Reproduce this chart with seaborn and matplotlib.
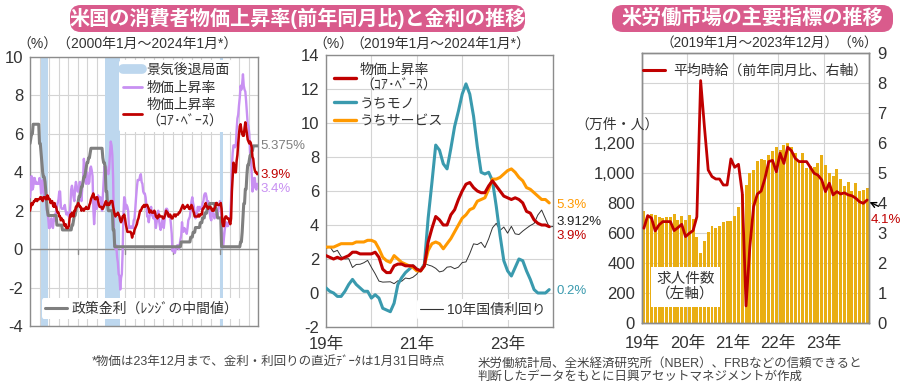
import numpy as np
import pandas as pd
import matplotlib
matplotlib.use("Agg")
import matplotlib.pyplot as plt
import seaborn as sns
from matplotlib.patches import FancyBboxPatch
from matplotlib.lines import Line2D

sns.set_theme(style="white")
plt.rcParams["font.family"] = ["Liberation Sans", "Noto Sans CJK JP", "DejaVu Sans"]
plt.rcParams["axes.unicode_minus"] = False

# ---------------- data ----------------
# Panel 1: monthly, 2000-01 .. 2023-12 (CPI), policy rate 2000-01 .. 2024-01
cpi_headline = [
    2.7, 3.2, 3.8, 3.1, 3.2, 3.7, 3.7, 3.4, 3.5, 3.4, 3.4, 3.4,
    3.7, 3.5, 2.9, 3.3, 3.6, 3.2, 2.7, 2.7, 2.6, 2.1, 1.9, 1.6,
    1.1, 1.1, 1.5, 1.6, 1.2, 1.1, 1.5, 1.8, 1.5, 2.0, 2.2, 2.4,
    2.6, 3.0, 3.0, 2.2, 2.1, 2.1, 2.1, 2.2, 2.3, 2.0, 1.8, 1.9,
    1.9, 1.7, 1.7, 2.3, 3.1, 3.3, 3.0, 2.7, 2.5, 3.2, 3.5, 3.3,
    3.0, 3.0, 3.1, 3.5, 2.8, 2.5, 3.2, 3.6, 4.7, 4.3, 3.5, 3.4,
    4.0, 3.6, 3.4, 3.5, 4.2, 4.3, 4.1, 3.8, 2.1, 1.3, 2.0, 2.5,
    2.1, 2.4, 2.8, 2.6, 2.7, 2.7, 2.4, 2.0, 2.8, 3.5, 4.3, 4.1,
    4.3, 4.0, 4.0, 3.9, 4.2, 5.0, 5.6, 5.4, 4.9, 3.7, 1.1, 0.1,
    0.0, 0.2, -0.4, -0.7, -1.3, -1.4, -2.1, -1.5, -1.3, -0.2, 1.8, 2.7,
    2.6, 2.1, 2.3, 2.2, 2.0, 1.1, 1.2, 1.1, 1.1, 1.2, 1.1, 1.5,
    1.6, 2.1, 2.7, 3.2, 3.6, 3.6, 3.6, 3.8, 3.9, 3.5, 3.4, 3.0,
    2.9, 2.9, 2.7, 2.3, 1.7, 1.7, 1.4, 1.7, 2.0, 2.2, 1.8, 1.7,
    1.6, 2.0, 1.5, 1.1, 1.4, 1.8, 2.0, 1.5, 1.2, 1.0, 1.2, 1.5,
    1.6, 1.1, 1.5, 2.0, 2.1, 2.1, 2.0, 1.7, 1.7, 1.7, 1.3, 0.8,
    -0.1, 0.0, -0.1, -0.2, 0.0, 0.1, 0.2, 0.2, 0.0, 0.2, 0.5, 0.7,
    1.4, 1.0, 0.9, 1.1, 1.0, 1.0, 0.8, 1.1, 1.5, 1.6, 1.7, 2.1,
    2.5, 2.7, 2.4, 2.2, 1.9, 1.6, 1.7, 1.9, 2.2, 2.0, 2.2, 2.1,
    2.1, 2.2, 2.4, 2.5, 2.8, 2.9, 2.9, 2.7, 2.3, 2.5, 2.2, 1.9,
    1.6, 1.5, 1.9, 2.0, 1.8, 1.6, 1.8, 1.7, 1.7, 1.8, 2.1, 2.3,
    2.5, 2.3, 1.5, 0.3, 0.1, 0.6, 1.0, 1.3, 1.4, 1.2, 1.2, 1.4,
    1.4, 1.7, 2.6, 4.2, 5.0, 5.4, 5.4, 5.3, 5.4, 6.2, 6.8, 7.0,
    7.5, 7.9, 8.5, 8.3, 8.6, 9.1, 8.5, 8.3, 8.2, 7.7, 7.1, 6.5,
    6.4, 6.0, 5.0, 4.9, 4.0, 3.0, 3.2, 3.7, 3.7, 3.2, 3.1, 3.4,
]
cpi_core = [
    2.0, 2.2, 2.4, 2.3, 2.4, 2.5, 2.5, 2.6, 2.6, 2.5, 2.6, 2.6,
    2.6, 2.7, 2.7, 2.6, 2.5, 2.7, 2.7, 2.7, 2.6, 2.6, 2.8, 2.7,
    2.6, 2.6, 2.4, 2.5, 2.5, 2.3, 2.2, 2.4, 2.2, 2.2, 2.0, 1.9,
    1.9, 1.7, 1.7, 1.5, 1.6, 1.5, 1.5, 1.3, 1.2, 1.3, 1.1, 1.1,
    1.1, 1.2, 1.6, 1.8, 1.7, 1.9, 1.8, 1.7, 2.0, 2.0, 2.2, 2.2,
    2.3, 2.4, 2.3, 2.2, 2.2, 2.0, 2.1, 2.1, 2.0, 2.1, 2.1, 2.2,
    2.1, 2.1, 2.1, 2.3, 2.4, 2.6, 2.7, 2.8, 2.9, 2.7, 2.6, 2.6,
    2.7, 2.7, 2.5, 2.3, 2.2, 2.2, 2.2, 2.1, 2.1, 2.2, 2.3, 2.4,
    2.5, 2.3, 2.4, 2.3, 2.3, 2.4, 2.5, 2.5, 2.5, 2.2, 2.0, 1.8,
    1.7, 1.8, 1.8, 1.9, 1.8, 1.7, 1.5, 1.4, 1.5, 1.7, 1.7, 1.8,
    1.6, 1.3, 1.1, 0.9, 0.9, 0.9, 0.9, 0.9, 0.8, 0.6, 0.8, 0.8,
    1.0, 1.1, 1.2, 1.3, 1.5, 1.6, 1.8, 2.0, 2.0, 2.1, 2.2, 2.2,
    2.3, 2.2, 2.3, 2.3, 2.3, 2.2, 2.1, 1.9, 2.0, 2.0, 1.9, 1.9,
    1.9, 2.0, 1.9, 1.7, 1.7, 1.6, 1.7, 1.8, 1.7, 1.7, 1.7, 1.7,
    1.6, 1.6, 1.7, 1.8, 2.0, 1.9, 1.9, 1.7, 1.7, 1.8, 1.7, 1.6,
    1.6, 1.7, 1.8, 1.8, 1.7, 1.8, 1.8, 1.8, 1.9, 1.9, 2.0, 2.1,
    2.2, 2.3, 2.2, 2.1, 2.2, 2.2, 2.2, 2.3, 2.2, 2.1, 2.1, 2.2,
    2.3, 2.2, 2.0, 1.9, 1.7, 1.7, 1.7, 1.7, 1.7, 1.8, 1.7, 1.8,
    1.8, 1.8, 2.1, 2.1, 2.2, 2.3, 2.4, 2.2, 2.2, 2.1, 2.2, 2.2,
    2.2, 2.1, 2.0, 2.1, 2.0, 2.1, 2.2, 2.4, 2.4, 2.3, 2.3, 2.3,
    2.3, 2.4, 2.1, 1.4, 1.2, 1.2, 1.6, 1.7, 1.7, 1.6, 1.6, 1.6,
    1.4, 1.3, 1.6, 3.0, 3.8, 4.5, 4.3, 4.0, 4.0, 4.6, 4.9, 5.5,
    6.0, 6.4, 6.5, 6.2, 6.0, 5.9, 5.9, 6.3, 6.6, 6.3, 6.0, 5.7,
    5.6, 5.5, 5.6, 5.5, 5.3, 4.8, 4.7, 4.3, 4.1, 4.0, 4.0, 3.9,
]
policy_rate = [
    5.5, 5.75, 6.0, 6.0, 6.5, 6.5, 6.5, 6.5, 6.5, 6.5, 6.5, 6.5,
    5.5, 5.5, 5.0, 4.5, 4.0, 3.75, 3.75, 3.5, 3.0, 2.5, 2.0, 1.75,
    1.75, 1.75, 1.75, 1.75, 1.75, 1.75, 1.75, 1.75, 1.75, 1.75, 1.25, 1.25,
    1.25, 1.25, 1.25, 1.25, 1.25, 1.0, 1.0, 1.0, 1.0, 1.0, 1.0, 1.0,
    1.0, 1.0, 1.0, 1.0, 1.0, 1.25, 1.25, 1.5, 1.75, 1.75, 2.0, 2.25,
    2.25, 2.5, 2.75, 2.75, 3.0, 3.25, 3.25, 3.5, 3.75, 3.75, 4.0, 4.25,
    4.5, 4.5, 4.75, 4.75, 5.0, 5.25, 5.25, 5.25, 5.25, 5.25, 5.25, 5.25,
    5.25, 5.25, 5.25, 5.25, 5.25, 5.25, 5.25, 5.25, 4.75, 4.5, 4.5, 4.25,
    3.0, 3.0, 2.25, 2.0, 2.0, 2.0, 2.0, 2.0, 2.0, 1.0, 1.0, 0.125,
    0.125, 0.125, 0.125, 0.125, 0.125, 0.125, 0.125, 0.125, 0.125, 0.125, 0.125, 0.125,
    0.125, 0.125, 0.125, 0.125, 0.125, 0.125, 0.125, 0.125, 0.125, 0.125, 0.125, 0.125,
    0.125, 0.125, 0.125, 0.125, 0.125, 0.125, 0.125, 0.125, 0.125, 0.125, 0.125, 0.125,
    0.125, 0.125, 0.125, 0.125, 0.125, 0.125, 0.125, 0.125, 0.125, 0.125, 0.125, 0.125,
    0.125, 0.125, 0.125, 0.125, 0.125, 0.125, 0.125, 0.125, 0.125, 0.125, 0.125, 0.125,
    0.125, 0.125, 0.125, 0.125, 0.125, 0.125, 0.125, 0.125, 0.125, 0.125, 0.125, 0.125,
    0.125, 0.125, 0.125, 0.125, 0.125, 0.125, 0.125, 0.125, 0.125, 0.125, 0.125, 0.375,
    0.375, 0.375, 0.375, 0.375, 0.375, 0.375, 0.375, 0.375, 0.375, 0.375, 0.375, 0.625,
    0.625, 0.625, 0.875, 0.875, 0.875, 1.125, 1.125, 1.125, 1.125, 1.125, 1.125, 1.375,
    1.375, 1.375, 1.625, 1.625, 1.625, 1.875, 1.875, 1.875, 2.125, 2.125, 2.125, 2.375,
    2.375, 2.375, 2.375, 2.375, 2.375, 2.375, 2.125, 2.125, 1.875, 1.625, 1.625, 1.625,
    1.625, 1.625, 0.125, 0.125, 0.125, 0.125, 0.125, 0.125, 0.125, 0.125, 0.125, 0.125,
    0.125, 0.125, 0.125, 0.125, 0.125, 0.125, 0.125, 0.125, 0.125, 0.125, 0.125, 0.125,
    0.125, 0.125, 0.375, 0.375, 0.875, 1.625, 2.375, 2.375, 3.125, 3.125, 3.875, 4.375,
    4.375, 4.625, 4.875, 4.875, 5.125, 5.125, 5.375, 5.375, 5.375, 5.375, 5.375, 5.375,
    5.375,
]
recessions = [(2001.17, 2001.89), (2007.92, 2009.45), (2020.05, 2020.3)]

# Panel 2: monthly 2019-01 .. 2023-12 (yield to 2024-01)
core_recent = cpi_core[-60:]
goods = [
    0.3, 0.1, 0.0, -0.2, -0.2, 0.1, 0.5, 0.8, 0.5, 0.3, 0.1, 0.1,
    -0.3, -0.1, -0.3, -0.9, -1.0, -1.1, -0.6, 0.5, 0.9, 1.2, 1.4, 1.6,
    1.4, 1.3, 1.7, 4.4, 6.5, 8.7, 8.4, 7.6, 7.3, 8.5, 9.8, 10.7,
    11.7, 12.3, 11.7, 10.4, 8.6, 7.1, 7.0, 7.1, 6.6, 5.1, 3.4, 1.9,
    1.3, 1.0, 1.5, 2.0, 1.9, 1.3, 0.8, 0.2, 0.0, 0.0, 0.0, 0.2,
]
services = [
    2.7, 2.7, 2.7, 2.8, 2.9, 2.9, 2.9, 2.9, 3.0, 3.0, 3.0, 3.1,
    3.1, 3.0, 2.6, 2.1, 1.9, 1.8, 2.2, 2.0, 1.8, 1.7, 1.6, 1.5,
    1.3, 1.3, 1.6, 2.5, 2.9, 3.0, 2.9, 2.6, 2.9, 3.2, 3.6, 4.0,
    4.4, 4.6, 4.9, 5.0, 5.4, 5.5, 5.6, 6.1, 6.7, 6.7, 6.8, 7.0,
    7.2, 7.3, 7.1, 6.8, 6.6, 6.2, 6.1, 5.9, 5.7, 5.5, 5.5, 5.3,
]
yield10 = [
    2.63, 2.73, 2.41, 2.51, 2.14, 2.00, 2.02, 1.50, 1.68, 1.69, 1.78, 1.92,
    1.51, 1.13, 0.70, 0.64, 0.65, 0.66, 0.55, 0.72, 0.69, 0.88, 0.84, 0.93,
    1.11, 1.44, 1.74, 1.65, 1.58, 1.45, 1.24, 1.30, 1.52, 1.55, 1.43, 1.52,
    1.79, 1.83, 2.32, 2.89, 2.85, 2.98, 2.67, 3.19, 3.83, 4.10, 3.68, 3.88,
    3.52, 3.92, 3.48, 3.44, 3.64, 3.81, 3.97, 4.09, 4.59, 4.88, 4.37, 3.88,
    3.912,
]

# Panel 3: monthly 2019-01 .. 2023-12
job_openings = [
    750, 716, 727, 718, 704, 702, 709, 709, 729, 690, 716, 690,
    720, 692, 571, 469, 547, 607, 647, 631, 647, 676, 680, 680,
    713, 773, 860, 920, 998, 1020, 1082, 1093, 1087, 1120, 1150, 1176,
    1153, 1187, 1198, 1171, 1131, 1087, 1131, 1031, 1047, 1042, 1064, 1120,
    1053, 998, 980, 1029, 958, 913, 942, 882, 931, 880, 887, 898,
]
wage_growth = [
    3.16, 3.58, 3.50, 3.07, 3.27, 3.38, 3.38, 3.38, 3.08, 3.18, 3.29, 2.88,
    2.99, 3.08, 3.54, 8.08, 6.54, 5.10, 4.88, 4.80, 4.80, 4.60, 4.60, 5.47,
    5.19, 5.29, 4.33, 0.57, 2.54, 3.88, 4.30, 4.40, 4.82, 5.38, 5.42, 5.04,
    5.66, 5.32, 5.86, 5.74, 5.49, 5.38, 5.38, 5.38, 5.19, 4.99, 4.93, 4.77,
    4.38, 4.66, 4.27, 4.38, 4.30, 4.34, 4.27, 4.24, 4.16, 4.04, 3.99, 4.10,
]

p1_years = [2000, 2005, 2010, 2015, 2020]
p1_labels = ["00年", "05年", "10年", "15年", "20年"]
p2_labels = ["19年", "21年", "23年"]
p3_labels = ["19年", "20年", "21年", "22年", "23年"]

# ---------------- style ----------------
PURPLE = "#C890F2"
RED = "#C00000"
GRAY = "#7F7F7F"
BLUE_BAND = "#BDD7EE"
TEAL = "#3A9AAE"
ORANGE = "#FF9900"
GOLD = "#E9AE12"
PINK = "#D95B8C"
GRID = "#D4D4D4"
SPINE = "#8C8C8C"
TXT = "#333333"

fig = plt.figure(figsize=(9, 3.9), dpi=100)
W, H = 900, 390


def axes_px(l, t, r, b):
    return fig.add_axes([l / W, 1 - b / H, (r - l) / W, (b - t) / H])


def style_ax(ax):
    for s in ax.spines.values():
        s.set_color(SPINE)
        s.set_linewidth(1.0)
    ax.tick_params(length=0, labelsize=12, colors=TXT, pad=5)


# ---------------- Panel 1 ----------------
ax1 = axes_px(30, 57, 258, 326)
style_ax(ax1)
df1 = pd.DataFrame({"year": 2000 + np.arange(len(cpi_headline)) / 12,
                    "cpi": cpi_headline, "core": cpi_core})
df1p = pd.DataFrame({"year": 2000 + np.arange(len(policy_rate)) / 12,
                     "rate": policy_rate})
for a, b in recessions:
    ax1.axvspan(a, b, color=BLUE_BAND, lw=0, zorder=1)
sns.lineplot(data=df1, x="year", y="cpi", ax=ax1, color=PURPLE, lw=1.7, zorder=3)
sns.lineplot(data=df1p, x="year", y="rate", ax=ax1, color=GRAY, lw=2.2, zorder=4)
sns.lineplot(data=df1, x="year", y="core", ax=ax1, color=RED, lw=1.8, zorder=5)
ax1.set_xlim(2000, 2024)
ax1.set_ylim(-4, 10)
ax1.set_xticks(range(2000, 2025))
ax1.set_xticklabels(["" for _ in range(2000, 2025)])
ax1.set_xticks(p1_years, minor=True)
ax1.set_xticklabels(p1_labels, minor=True)
ax1.tick_params(axis="x", which="minor", length=0, labelsize=12, colors=TXT, pad=7)
ax1.set_yticks(range(-4, 11, 2))
ax1.grid(True, which="major", color=GRID, lw=0.8, zorder=0)
ax1.axhline(0, color=SPINE, lw=1.0, zorder=2)
for yv in p1_years[1:]:
    ax1.plot([yv, yv], [0, -0.25], color=SPINE, lw=1.0, zorder=2)
ax1.set_xlabel("")
ax1.set_ylabel("")
ax1.set_axisbelow(True)

h1 = [Line2D([], [], color=BLUE_BAND, lw=7),
      Line2D([], [], color=PURPLE, lw=2),
      Line2D([], [], color=RED, lw=2)]
leg1 = ax1.legend(h1, ["景気後退局面", "物価上昇率", "物価上昇率\n（ｺｱ･ﾍﾞｰｽ）"],
                  loc="upper left", bbox_to_anchor=(0.38, 1.0), fontsize=10,
                  frameon=True, facecolor="white", edgecolor="none", framealpha=1,
                  handlelength=1.4, handletextpad=0.3, labelspacing=0.25,
                  borderpad=0.25, borderaxespad=0.2)
for t in leg1.get_texts():
    t.set_color(TXT)
ax1.add_artist(leg1)
leg1b = ax1.legend([Line2D([], [], color=GRAY, lw=2.2)], ["政策金利（ﾚﾝｼﾞの中間値）"],
                   loc="lower left", bbox_to_anchor=(0.02, 0.0), fontsize=10,
                   frameon=True, facecolor="white", edgecolor="none", framealpha=1,
                   handlelength=1.6, handletextpad=0.3, borderpad=0.25)
for t in leg1b.get_texts():
    t.set_color(TXT)

ax1.text(2024.25, policy_rate[-1], "5.375%", color=GRAY, fontsize=9.5,
         va="center", ha="left", clip_on=False)
ax1.text(2024.25, 3.85, "3.9%", color=RED, fontsize=9.5, va="center",
         ha="left", clip_on=False)
ax1.text(2024.25, 3.15, "3.4%", color=PURPLE, fontsize=9.5, va="center",
         ha="left", clip_on=False)

# ---------------- Panel 2 ----------------
ax2 = axes_px(326, 55, 553, 327)
style_ax(ax2)
m60 = np.arange(60)
df2 = pd.DataFrame({"m": m60, "core": core_recent, "goods": goods,
                    "services": services})
df2y = pd.DataFrame({"m": np.arange(len(yield10)), "y": yield10})
sns.lineplot(data=df2y, x="m", y="y", ax=ax2, color="#333333", lw=0.7, zorder=3)
sns.lineplot(data=df2, x="m", y="goods", ax=ax2, color=TEAL, lw=2.2, zorder=4)
sns.lineplot(data=df2, x="m", y="services", ax=ax2, color=ORANGE, lw=2.2, zorder=5)
sns.lineplot(data=df2, x="m", y="core", ax=ax2, color=RED, lw=2.2, zorder=6)
ax2.set_xlim(0, 60)
ax2.set_ylim(-2, 14)
ax2.set_xticks([0, 12, 24, 36, 48])
ax2.set_xticklabels([p2_labels[0], "", p2_labels[1], "", p2_labels[2]])
ax2.tick_params(axis="x", pad=7)
ax2.set_yticks(range(-2, 15, 2))
ax2.grid(True, color=GRID, lw=0.8, zorder=0)
ax2.set_axisbelow(True)
ax2.set_xlabel("")
ax2.set_ylabel("")

h2 = [Line2D([], [], color=RED, lw=2.4),
      Line2D([], [], color=TEAL, lw=2.4),
      Line2D([], [], color=ORANGE, lw=2.4)]
leg2 = ax2.legend(h2, ["物価上昇率\n（ｺｱ･ﾍﾞｰｽ）", "うちモノ", "うちサービス"],
                  loc="upper left", bbox_to_anchor=(0.0, 1.0), fontsize=10,
                  frameon=False, handlelength=1.6, handletextpad=0.3,
                  labelspacing=0.25, borderpad=0.25, borderaxespad=0.3)
for t in leg2.get_texts():
    t.set_color(TXT)
ax2.add_artist(leg2)
leg2b = ax2.legend([Line2D([], [], color="#333333", lw=0.8)], ["10年国債利回り"],
                   loc="lower left", bbox_to_anchor=(0.37, 0.0), fontsize=10,
                   frameon=True, facecolor="white", edgecolor="none", framealpha=1,
                   handlelength=1.6, handletextpad=0.3, borderpad=0.25)
for t in leg2b.get_texts():
    t.set_color(TXT)

ax2.text(60.8, 5.2, "5.3%", color=ORANGE, fontsize=9.5, va="center", clip_on=False)
ax2.text(60.8, 4.18, "3.912%", color="#222222", fontsize=9.5, va="center", clip_on=False)
ax2.text(60.8, 3.35, "3.9%", color=RED, fontsize=9.5, va="center", clip_on=False)
ax2.text(60.8, 0.12, "0.2%", color=TEAL, fontsize=9.5, va="center", clip_on=False)

# ---------------- Panel 3 ----------------
ax3 = axes_px(642, 53, 869, 323)
style_ax(ax3)
df3 = pd.DataFrame({"m": m60, "open": job_openings, "wage": wage_growth})
sns.barplot(data=df3, x="m", y="open", ax=ax3, native_scale=True, color=GOLD,
            width=0.78, errorbar=None, saturation=1, zorder=2, linewidth=0)
ax3.set_xlim(-0.5, 59.5)
ax3.set_ylim(0, 1800)
ax3.set_yticks(range(0, 1801, 200))
ax3.set_yticklabels([f"{v:,}" if v <= 1200 else "" for v in range(0, 1801, 200)])
ax3.set_xticks([-0.5, 11.5, 23.5, 35.5, 47.5, 59.5])
ax3.set_xticklabels(p3_labels + [""])
ax3.tick_params(axis="x", length=4, color=SPINE, pad=5)
ax3.grid(True, color=GRID, lw=0.8, zorder=0)
ax3.set_axisbelow(True)
ax3.set_xlabel("")
ax3.set_ylabel("")

ax3r = ax3.twinx()
style_ax(ax3r)
sns.lineplot(data=df3, x="m", y="wage", ax=ax3r, color=RED, lw=2.0, zorder=5)
ax3r.set_ylim(0, 9)
ax3r.set_yticks(range(0, 10))
ax3r.set_ylabel("")
ax3r.tick_params(axis="y", labelsize=12, pad=6)
ax3r.set_xlim(-0.5, 59.5)

leg3 = ax3r.legend([Line2D([], [], color=RED, lw=2.2)], ["平均時給（前年同月比、右軸）"],
                   loc="upper center", bbox_to_anchor=(0.5, 1.0), fontsize=10,
                   frameon=False, handlelength=1.6, handletextpad=0.6, borderpad=0.3)
for t in leg3.get_texts():
    t.set_color(TXT)

ax3r.annotate("4.1%", xy=(59.3, wage_growth[-1] - 0.05), xytext=(60.0, 3.45),
              color=RED, fontsize=9.5, ha="left", va="center",
              annotation_clip=False,
              arrowprops=dict(arrowstyle="->", color="black", lw=1.0,
                              shrinkA=0, shrinkB=1,
                              relpos=(0.25, 1.6)))
ax3.text(11.0, 240, "求人件数\n（左軸）", fontsize=10.5, color=TXT, ha="center",
         va="center", linespacing=1.1, zorder=6,
         bbox=dict(boxstyle="square,pad=0.35", fc="white", ec="none"))

# ---------------- titles / texts ----------------
def title_box(l, t, r, b, text):
    box = FancyBboxPatch((l / W, 1 - b / H), (r - l) / W, (b - t) / H,
                         boxstyle="round,pad=0,rounding_size=0.012",
                         transform=fig.transFigure, fc=PINK, ec="none",
                         mutation_aspect=W / H)
    fig.patches.append(box)
    fig.text((l + r) / 2 / W, 1 - (t + b) / 2 / H, text, color="white",
             fontsize=14.5, fontweight="bold", ha="center", va="center")


title_box(70, 5, 525, 32, "米国の消費者物価上昇率(前年同月比)と金利の推移")
title_box(612, 5, 893, 32, "米労働市場の主要指標の推移")

fig.text(17 / W, 1 - 45 / H, "（%）（2000年1月～2024年1月*）", fontsize=10,
         color=TXT, ha="left", va="center")
fig.text(313 / W, 1 - 45 / H, "（%）", fontsize=10, color=TXT, ha="left", va="center")
fig.text(350 / W, 1 - 45 / H, "（2019年1月～2024年1月*）", fontsize=10,
         color=TXT, ha="left", va="center")
fig.text(661 / W, 1 - 43 / H, "（2019年1月～2023年12月）（%）", fontsize=9.8,
         color=TXT, ha="left", va="center")
fig.text(575 / W, 1 - 125 / H, "（万件・人）", fontsize=10, color=TXT,
         ha="left", va="center")

fig.text(92 / W, 1 - 362 / H, "*物価は23年12月まで、金利・利回りの直近ﾃﾞｰﾀは1月31日時点",
         fontsize=9, color="#444444", ha="left", va="center")
fig.text(478 / W, 1 - 370 / H,
         "米労働統計局、全米経済研究所（NBER）、FRBなどの信頼できると\n判断したデータをもとに日興アセットマネジメントが作成",
         fontsize=9, color="#444444", ha="left", va="center", linespacing=1.15)

fig.savefig("out.png", dpi=100, facecolor="white")
